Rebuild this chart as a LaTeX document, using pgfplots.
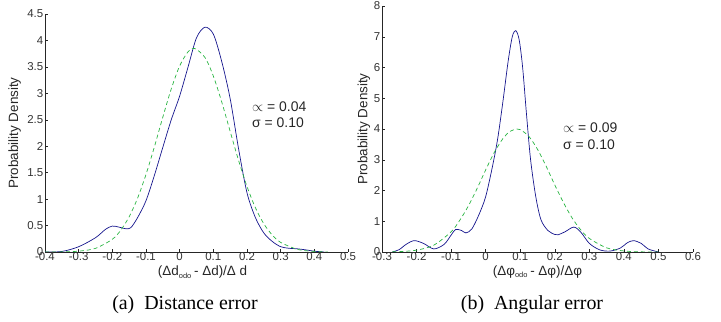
\documentclass[border=0pt]{standalone}
\usepackage{pgfplots}
\pgfplotsset{compat=1.18}
\usepackage{fontspec}
\setmainfont{Liberation Sans}
\newfontfamily\capfont{Liberation Serif}
\definecolor{kdeblue}{RGB}{20,20,140}
\definecolor{fitgreen}{RGB}{40,180,65}
\newcommand{\tickfont}{\fontsize{11.5}{13}\selectfont}
\newcommand{\labfont}{\fontsize{13.5}{16}\selectfont}
\pgfplotsset{
  myax/.style={
    scale only axis,
    axis x line=bottom, axis y line=left,
    axis line style={-, black!85, line width=0.6pt},
    tick align=inside,
    major tick length=3pt,
    tick style={black!85, line width=0.5pt},
    /pgf/number format/assume math mode=true,
    xticklabel style={font=\tickfont, text=black!80, inner sep=0.5pt},
    yticklabel style={font=\tickfont, text=black!80, inner sep=1.5pt},
    anchor=south west,
  },
  kde/.style={kdeblue, line width=0.7pt, smooth, tension=0.5, no marks},
  fit/.style={fitgreen, line width=0.7pt, dash pattern=on 4pt off 3pt, smooth, no marks},
}
\begin{document}
\begin{tikzpicture}
\useasboundingbox (0,0) rectangle (721bp,322bp);
% ---------- (a) ----------
\begin{axis}[myax,
  at={(45bp,70bp)}, width=303bp, height=238bp,
  xmin=-0.4, xmax=0.5, ymin=0, ymax=4.5,
  xtick={-0.4,-0.3,...,0.5}, ytick={0,0.5,...,4.5},
  xticklabels={-0.4,-0.3,-0.2,-0.1,0,0.1,0.2,0.3,0.4,0.5},
  yticklabels={0,0.5,1,1.5,2,2.5,3,3.5,4,4.5},
  ylabel={Probability Density},
  ylabel style={at={(axis description cs:-0.1,0.5)}, anchor=center, rotate=0, font=\labfont, text=black!85},
  xlabel={(Δd\textsubscript{\fontsize{7.5}{7.5}\selectfont odo}\,- Δd)/Δ d},
  xlabel style={at={(axis description cs:0.52,-0.086)}, anchor=center, font=\labfont, text=black!85},
]
\addplot[kde] coordinates {
(-0.4,0.0) (-0.35,0.01) (-0.3,0.1) (-0.25,0.27) (-0.22,0.43) (-0.2,0.49) (-0.18,0.47)
(-0.16,0.44) (-0.145,0.46) (-0.125,0.65) (-0.1,0.97) (-0.075,1.45) (-0.05,1.98)
(-0.025,2.5) (0,2.95) (0.025,3.5) (0.05,4.05) (0.075,4.25) (0.1,4.12) (0.125,3.6)
(0.15,2.9) (0.175,1.95) (0.2,1.12) (0.225,0.65) (0.25,0.36) (0.275,0.2) (0.3,0.1)
(0.325,0.07) (0.35,0.06) (0.375,0.04) (0.4,0.015) (0.43,0.0)
};
\addplot[fit] coordinates {
(-0.4,0.0004) (-0.35,0.003) (-0.3,0.016) (-0.25,0.069) (-0.2,0.241) (-0.175,0.412)
(-0.15,0.667) (-0.125,1.018) (-0.1,1.466) (-0.075,1.99) (-0.05,2.551) (-0.025,3.084)
(0,3.518) (0.025,3.786) (0.044,3.85) (0.075,3.68) (0.1,3.327) (0.125,2.836)
(0.15,2.281) (0.175,1.731) (0.2,1.239) (0.225,0.837) (0.25,0.533) (0.275,0.321)
(0.3,0.182) (0.35,0.049) (0.4,0.0105) (0.44,0.002)
};
\end{axis}
% ---------- (b) ----------
\begin{axis}[myax,
  at={(382bp,70bp)}, width=311bp, height=246bp,
  xmin=-0.3, xmax=0.6, ymin=0, ymax=8,
  xtick={-0.3,-0.2,...,0.6}, ytick={0,1,...,8},
  xticklabels={-0.3,-0.2,-0.1,0,0.1,0.2,0.3,0.4,0.5,0.6},
  yticklabels={0,1,2,3,4,5,6,7,8},
  ylabel={Probability Density},
  ylabel style={at={(axis description cs:-0.058,0.5)}, anchor=center, rotate=0, font=\labfont, text=black!85},
  xlabel={(Δφ\textsubscript{\fontsize{7.5}{7.5}\selectfont odo}\,- Δφ)/Δφ},
  xlabel style={at={(axis description cs:0.5,-0.082)}, anchor=center, font=\labfont, text=black!85},
]
\addplot[kde] coordinates {
(-0.27,0.0) (-0.25,0.08) (-0.23,0.25) (-0.207,0.37) (-0.18,0.28) (-0.15,0.1)
(-0.12,0.25) (-0.1,0.55) (-0.087,0.73) (-0.07,0.7) (-0.057,0.62) (-0.04,0.75)
(-0.02,1.2) (0,1.8) (0.02,2.8) (0.035,3.7) (0.05,4.9) (0.065,6.2) (0.077,7.0)
(0.087,7.2) (0.097,6.9) (0.107,6.0) (0.118,4.5) (0.13,3.0) (0.145,1.8) (0.16,1.05)
(0.18,0.7) (0.2,0.57) (0.21,0.56) (0.23,0.66) (0.255,0.81) (0.275,0.65) (0.3,0.28)
(0.33,0.07) (0.36,0.03) (0.39,0.13) (0.41,0.3) (0.428,0.37) (0.45,0.28) (0.47,0.1)
(0.5,0.0)
};
\addplot[fit] coordinates {
(-0.27,0.006) (-0.25,0.012) (-0.2,0.06) (-0.15,0.224) (-0.1,0.658) (-0.075,1.03)
(-0.05,1.5) (-0.025,2.06) (0,2.67) (0.025,3.24) (0.05,3.69) (0.07,3.92) (0.09,4.0)
(0.1,3.98) (0.125,3.76) (0.15,3.34) (0.175,2.79) (0.2,2.18) (0.225,1.61) (0.25,1.11)
(0.275,0.72) (0.3,0.441) (0.35,0.136) (0.4,0.033) (0.45,0.006) (0.5,0.001)
};
\end{axis}
% annotations
\node[anchor=west, font=\fontsize{14}{16}\selectfont, text=black!85, inner sep=0] at (252bp,215bp) {$\propto$ = 0.04};
\node[anchor=west, font=\fontsize{14}{16}\selectfont, text=black!85, inner sep=0] at (252bp,199bp) {σ = 0.10};
\node[anchor=west, font=\fontsize{14}{16}\selectfont, text=black!85, inner sep=0] at (563bp,194bp) {$\propto$ = 0.09};
\node[anchor=west, font=\fontsize{14}{16}\selectfont, text=black!85, inner sep=0] at (563bp,177bp) {σ = 0.10};
% captions
\node[font=\capfont\fontsize{20}{24}\selectfont] at (185bp,17bp) {(a)\ \ Distance error};
\node[font=\capfont\fontsize{20}{24}\selectfont] at (532bp,17bp) {(b)\ \ Angular error};
\end{tikzpicture}
\end{document}
